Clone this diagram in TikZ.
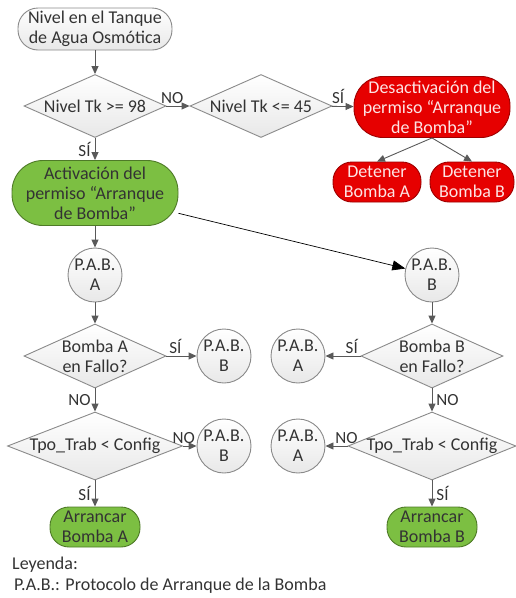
\documentclass[tikz,border=0pt]{standalone}
\usepackage{fontspec}
\setmainfont{Carlito}
\usepackage{xcolor}
\usepackage{tikz}
\usetikzlibrary{shapes.geometric,arrows.meta}

\definecolor{lineGray}{HTML}{595959}
\definecolor{edgeGray}{HTML}{8A8A8A}
\definecolor{txtGray}{HTML}{333333}
\definecolor{fillRed}{HTML}{E60000}
\definecolor{edgeRed}{HTML}{9E0000}
\definecolor{txtRed}{HTML}{FDE4E4}
\definecolor{fillGreen}{HTML}{7CBF42}
\definecolor{edgeGreen}{HTML}{4E7A27}

\tikzset{
	base/.style={font=\fontsize{18}{20}\selectfont, text=txtGray, align=center, inner sep=0pt},
	graybg/.style={draw=edgeGray, line width=0.9pt, top color=white, bottom color=black!9},
	terminal/.style={base, graybg, rectangle, rounded corners=#1},
	redbox/.style={base, rectangle, rounded corners=#1, draw=edgeRed, line width=0.9pt, fill=fillRed, text=txtRed},
	greenbox/.style={base, rectangle, rounded corners=#1, draw=edgeGreen, line width=0.9pt, fill=fillGreen},
	decision/.style={base, graybg, diamond},
	pab/.style={base, graybg, circle, minimum size=54pt, inner sep=-2pt},
	flow/.style={draw=lineGray, line width=0.9pt, -{Triangle[length=8pt,width=7pt]}},
	longarrow/.style={draw=black, line width=0.7pt, -{Triangle[length=13pt,width=10pt]}},
	tag/.style={font=\fontsize{17}{17}\selectfont, text=txtGray, inner sep=2pt},
}

\begin{document}
\begin{tikzpicture}[x=1pt, y=-1pt]
	\useasboundingbox (0,0) rectangle (516,598);

	\node[terminal=20pt, minimum width=154pt, minimum height=42pt] (inicio) at (95,29) {Nivel en el Tanque\\de Agua Osmótica};
	\node[decision, minimum width=142pt, minimum height=63pt, label={[base]center:Nivel Tk >= 98}] (tk98) at (95,106) {};
	\node[decision, minimum width=142pt, minimum height=63pt, label={[base]center:Nivel Tk <= 45}] (tk45) at (261,106) {};
	\node[redbox=29pt, minimum width=156pt, minimum height=61pt] (desact) at (432,107) {Desactivación del\\permiso “Arranque\\de Bomba”};
	\node[redbox=19pt, minimum width=88pt, minimum height=40pt] (detA) at (377,182) {Detener\\Bomba A};
	\node[redbox=19pt, minimum width=84pt, minimum height=40pt] (detB) at (472,182) {Detener\\Bomba B};
	\node[greenbox=31pt, minimum width=166pt, minimum height=65pt] (activ) at (95,193) {Activación del\\permiso “Arranque\\de Bomba”};

	% bomba A
	\node[pab] (pabA1) at (95,275) {P.A.B.\\A};
	\node[decision, minimum width=142pt, minimum height=64pt, label={[base]center:{Bomba A\\en Fallo?}}] (falloA) at (95,356) {};
	\node[pab] (pabB2) at (224,356) {P.A.B.\\B};
	\node[decision, minimum width=175pt, minimum height=68pt, label={[base]center:Tpo\_Trab < Config}] (tpoA) at (95,446) {};
	\node[pab] (pabB3) at (224,446) {P.A.B.\\B};
	\node[greenbox=19pt, minimum width=90pt, minimum height=40pt] (arrA) at (95,527) {Arrancar\\Bomba A};

	% bomba B
	\node[pab] (pabB1) at (432,275) {P.A.B.\\B};
	\node[decision, minimum width=142pt, minimum height=64pt, label={[base]center:{Bomba B\\en Fallo?}}] (falloB) at (432,356) {};
	\node[pab] (pabA2) at (298,356) {P.A.B.\\A};
	\node[decision, minimum width=168pt, minimum height=68pt, label={[base]center:Tpo\_Trab < Config}] (tpoB) at (432,446) {};
	\node[pab] (pabA3) at (298,446) {P.A.B.\\A};
	\node[greenbox=19pt, minimum width=90pt, minimum height=40pt] (arrB) at (432,527) {Arrancar\\Bomba B};

	\node[base, anchor=west] (leyenda) at (12,565) {Leyenda:};
	\node[base, anchor=west] (defpab) at (14,586) {P.A.B.: Protocolo de Arranque de la Bomba};

	\draw[flow] (inicio) -- (tk98);
	\draw[flow] (tk98) -- node[tag, above, pos=0.25] {NO} (tk45);
	\draw[flow] (tk98) -- node[tag, left, xshift=-2pt] {SÍ} (activ);
	\draw[flow] (tk45) -- node[tag, above, pos=0.3] {SÍ} (desact);
	\draw[flow] (desact.south) -- (detA.north);
	\draw[flow] (desact.south) -- (detB.north);
	\draw[flow] (activ) -- (pabA1);
	\draw[longarrow] (activ) -- (pabB1);

	\draw[flow] (pabA1) -- (falloA);
	\draw[flow] (falloA) -- node[tag, above, pos=0.3] {SÍ} (pabB2);
	\draw[flow] (falloA) -- node[tag, left, xshift=-2pt] {NO} (tpoA);
	\draw[flow] (tpoA) -- node[tag, above, pos=0.05] {NO} (pabB3);
	\draw[flow] (tpoA) -- node[tag, left, xshift=-2pt] {SÍ} (arrA);

	\draw[flow] (pabB1) -- (falloB);
	\draw[flow] (falloB) -- node[tag, above, pos=0.25] {SÍ} (pabA2);
	\draw[flow] (falloB) -- node[tag, right, xshift=2pt] {NO} (tpoB);
	\draw[flow] (tpoB) -- node[tag, above, pos=0.05] {NO} (pabA3);
	\draw[flow] (tpoB) -- node[tag, right, xshift=2pt] {SÍ} (arrB);
\end{tikzpicture}
\end{document}
